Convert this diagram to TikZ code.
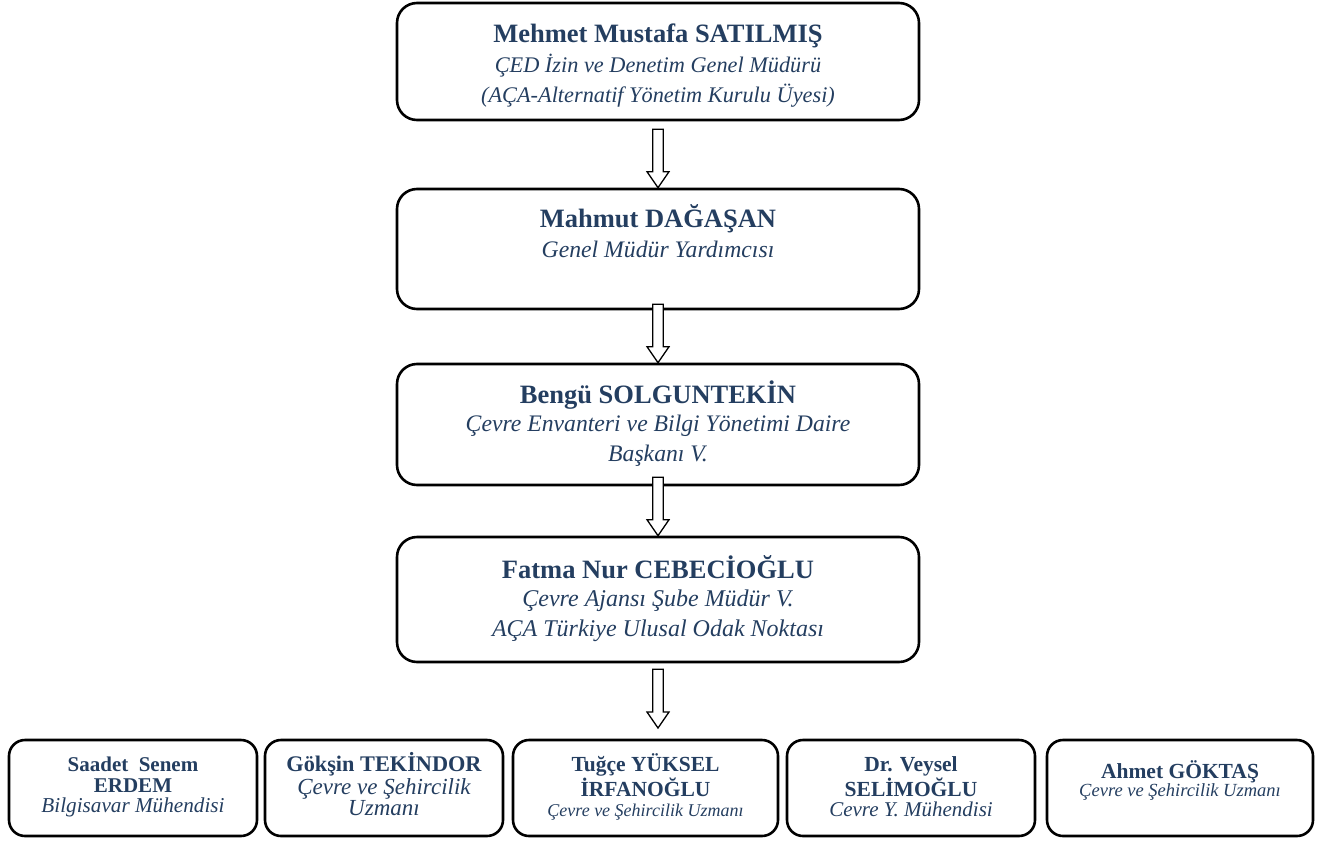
\documentclass[tikz,border=0pt]{standalone}
\usepackage{fontspec}
\setmainfont{Liberation Serif}[
  BoldFont={Liberation Serif Bold},
  ItalicFont={Liberation Serif Italic},
  BoldItalicFont={Liberation Serif Bold Italic}]
\usetikzlibrary{calc}

\definecolor{staffblue}{RGB}{36,62,96}

\newcommand{\bigname}[1]{{\fontsize{26.5}{30}\selectfont\bfseries\rule{0pt}{24pt}#1}}
\newcommand{\bigrole}[2][23.7]{{\fontsize{#1}{30}\selectfont\itshape #2}}
\newcommand{\smallname}[2][21.5]{{\fontsize{#1}{20}\selectfont\bfseries #2}}
\newcommand{\smallrole}[2]{{\fontsize{#1}{20}\selectfont\itshape #2}}

% hollow block arrow between two points
\newcommand{\hollowarrow}[2]{%
  \draw[hollow] let \p1=(#1), \p2=(#2) in
    (\x1-5.3pt,\y1) -- (\x1+5.3pt,\y1) -- (\x1+5.3pt,\y2+16pt) -- (\x1+11pt,\y2+16pt)
    -- (\x1,\y2) -- (\x1-11pt,\y2+16pt) -- (\x1-5.3pt,\y2+16pt) -- cycle;}

\tikzset{
  post/.style={draw, line width=2.6pt, rounded corners=20pt, minimum width=522pt, inner sep=0pt},
  staff/.style={draw, line width=2.6pt, rounded corners=16pt, minimum height=96pt, inner sep=0pt},
  infotext/.style={text=staffblue, align=center, inner sep=0pt, anchor=north,
    font=\fontsize{22.5}{30}\selectfont},
  stafftext/.style={text=staffblue, align=center, inner sep=0pt, anchor=north,
    font=\fontsize{21}{20.5}\selectfont},
  hollow/.style={draw, line width=1.3pt, fill=white, line join=miter},
}

\begin{document}
\begin{tikzpicture}[x=1pt, y=-1pt]
  \useasboundingbox (0,0) rectangle (1327,843);

  % chain of managers
  \node[post, minimum height=117pt] (satilmis) at (658,61.5) {};
  \node[post, minimum height=120pt] (dagasan) at (658,249) {};
  \node[post, minimum height=121pt] (solguntekin) at (658,424.5) {};
  \node[post, minimum height=125pt] (cebecioglu) at (658,599.5) {};

  \node[infotext] (satilmisT) at ($(satilmis.north)+(0,17)$)
    {\bigname{Mehmet Mustafa SATILMIŞ}\\[0pt]
     \bigrole[22.3]{ÇED İzin ve Denetim Genel Müdürü}\\
     \bigrole[22.3]{(AÇA-Alternatif Yönetim Kurulu Üyesi)}};
  \node[infotext] (dagasanT) at ($(dagasan.north)+(0,15.5)$)
    {\bigname{Mahmut DAĞAŞAN}\\[0pt]
     \bigrole{Genel Müdür Yardımcısı}};
  \node[infotext] (solguntekinT) at ($(solguntekin.north)+(0,16.5)$)
    {\bigname{Bengü SOLGUNTEKİN}\\[-1.5pt]
     \bigrole{Çevre Envanteri ve Bilgi Yönetimi Daire}\\
     \bigrole{Başkanı V.}};
  \node[infotext] (cebeciogluT) at ($(cebecioglu.north)+(0,19)$)
    {\bigname{Fatma Nur CEBECİOĞLU}\\[-2pt]
     \bigrole[24]{Çevre Ajansı Şube Müdür V.}\\
     \bigrole[24]{AÇA Türkiye Ulusal Odak Noktası}};

  % staff row
  \node[staff, minimum width=248pt] (erdem) at (133,788) {};
  \node[staff, minimum width=238pt] (tekindor) at (384,788) {};
  \node[staff, minimum width=265pt] (irfanoglu) at (645.5,788) {};
  \node[staff, minimum width=248pt] (selimoglu) at (911,788) {};
  \node[staff, minimum width=266pt] (goktas) at (1180,788) {};

  \node[stafftext] (erdemT) at ($(erdem.north)+(0,13)$)
    {\smallname[21]{\rule{0pt}{20pt}Saadet\ \ Senem}\\
     \smallname[21]{ERDEM}\\
     \smallrole{21.2}{Bilgisavar Mühendisi}};
  \node[stafftext] (tekindorT) at ($(tekindor.north)+(0,13)$)
    {\smallname[22.3]{\rule{0pt}{20pt}Gökşin TEKİNDOR}\\[1.5pt]
     \smallrole{23}{Çevre ve Şehircilik}\\
     \smallrole{23}{Uzmanı}};
  \node[stafftext] (irfanogluT) at ($(irfanoglu.north)+(0,13)$)
    {\smallname{\rule{0pt}{20pt}Tuğçe YÜKSEL}\\
     \smallname{İRFANOĞLU}\\
     \smallrole{18}{Çevre ve Şehircilik Uzmanı}};
  \node[stafftext] (selimogluT) at ($(selimoglu.north)+(0,13)$)
    {\smallname{\rule{0pt}{20pt}Dr. Veysel}\\
     \smallname{SELİMOĞLU}\\
     \smallrole{21}{Cevre Y. Mühendisi}};
  \node[stafftext] (goktasT) at ($(goktas.north)+(0,20)$)
    {\smallname{\rule{0pt}{20pt}Ahmet GÖKTAŞ}\\[-3pt]
     \smallrole{18.5}{Çevre ve Şehircilik Uzmanı}};

  % arrows
  \coordinate (split) at (658,728);
  \hollowarrow{$(satilmis.south)+(0,8)$}{dagasan.north}
  \hollowarrow{$(dagasan.south)+(0,-6)$}{solguntekin.north}
  \hollowarrow{$(solguntekin.south)+(0,-9)$}{cebecioglu.north}
  \hollowarrow{$(cebecioglu.south)+(0,6)$}{split}
\end{tikzpicture}
\end{document}
